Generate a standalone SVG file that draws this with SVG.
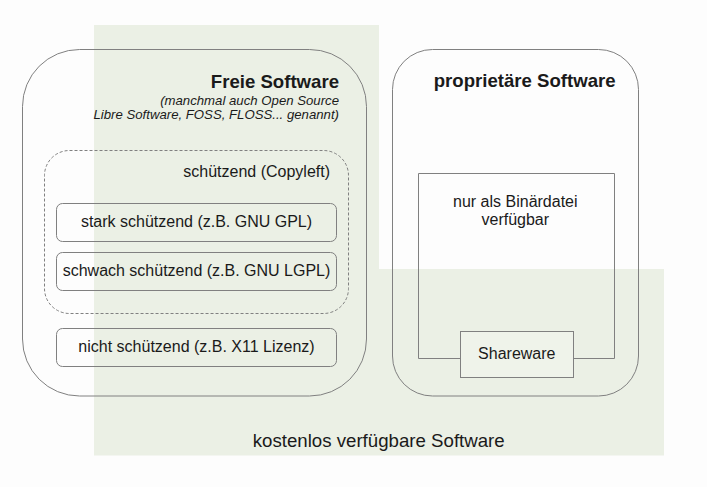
<svg xmlns="http://www.w3.org/2000/svg" width="707" height="487" viewBox="0 0 707 487">
<style>
.box{fill:none;stroke:#808080;stroke-width:1}
.t{font-family:"Liberation Sans",Arial,sans-serif;fill:#1a1a1a}
.n{font-size:16px}
.b{font-size:18.6px;font-weight:bold}
.i{font-size:13.2px;font-style:italic}
</style>
<rect width="707" height="487" fill="#fdfdfd"/>
<g id="kostenlos">
<polygon points="94,25 379,25 379,269 664,269 664,455.5 94,455.5" fill="#ebf0e5"/>
<text class="t" x="378.7" y="446.5" font-size="18.67" text-anchor="middle">kostenlos verfügbare Software</text>
</g>
<g id="freie">
<rect class="box" x="22.5" y="49.5" width="344" height="346.5" rx="57" ry="57"/>
<text class="t b" x="339" y="88" text-anchor="end">Freie Software</text>
<text class="t i" x="339" y="104.5" text-anchor="end">(manchmal auch Open Source</text>
<text class="t i" x="339" y="119" text-anchor="end">Libre Software, FOSS, FLOSS... genannt)</text>
</g>
<g id="copyleft">
<rect class="box" x="44.5" y="150.5" width="304" height="163" rx="25" ry="25" stroke-dasharray="3,2"/>
<text class="t n" x="330" y="176.5" text-anchor="end">schützend (Copyleft)</text>
</g>
<g id="stark">
<rect class="box" x="56.5" y="203.5" width="280" height="38" rx="6" ry="6"/>
<text class="t n" x="196.5" y="226.7" text-anchor="middle">stark schützend (z.B. GNU GPL)</text>
</g>
<g id="schwach">
<rect class="box" x="56.5" y="252.5" width="280" height="38" rx="6" ry="6"/>
<text class="t n" x="196.5" y="275.7" text-anchor="middle">schwach schützend (z.B. GNU LGPL)</text>
</g>
<g id="nicht">
<rect class="box" x="56.5" y="328.5" width="280" height="38" rx="6" ry="6"/>
<text class="t n" x="196.5" y="351.7" text-anchor="middle">nicht schützend (z.B. X11 Lizenz)</text>
</g>
<g id="proprietaer">
<rect class="box" x="392.5" y="49.5" width="246" height="346.5" rx="40" ry="40"/>
<text class="t b" x="524.7" y="87" text-anchor="middle">proprietäre Software</text>
</g>
<g id="binaer">
<path class="box" d="M460.5,358.5 H418.5 V173.5 H614.5 V358.5 H573.5"/>
<text class="t n" x="515.3" y="207.3" text-anchor="middle">nur als Binärdatei</text>
<text class="t n" x="515.3" y="224.5" text-anchor="middle">verfügbar</text>
</g>
<g id="shareware">
<rect x="460.5" y="331.5" width="113" height="46" fill="#eff3ea" stroke="#808080" stroke-width="1"/>
<text class="t n" x="516.8" y="359.3" text-anchor="middle">Shareware</text>
</g>
<g id="connectors"/>
</svg>
